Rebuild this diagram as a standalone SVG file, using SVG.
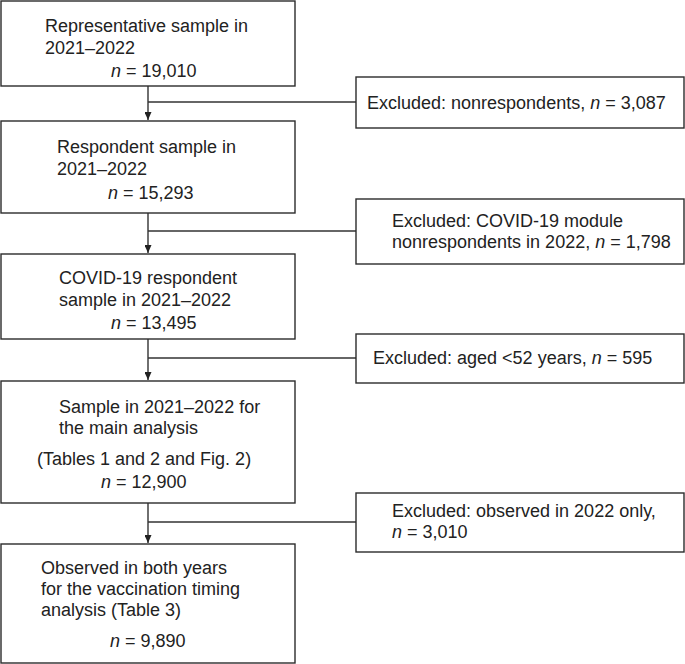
<svg xmlns="http://www.w3.org/2000/svg" width="685" height="664" viewBox="0 0 685 664">
<defs>
<marker id="arr" viewBox="0 0 8 7" refX="8" refY="3.5" markerWidth="8" markerHeight="7" markerUnits="userSpaceOnUse" orient="auto">
<path d="M0,0 L8,3.5 L0,7 Z" fill="#222"/>
</marker>
<style>
.box{fill:#fff;stroke:#2b2b2b;stroke-width:1.4}
.t{font-family:"Liberation Sans",Arial,sans-serif;font-size:18px;fill:#222}
.i{font-style:italic}
.ln{fill:none;stroke:#333;stroke-width:1.4}
</style>
</defs>
<rect width="685" height="664" fill="#fff"/>
<g id="connectors">
<path class="ln" d="M148,86 V120" marker-end="url(#arr)"/>
<path class="ln" d="M148,102 H356"/>
<path class="ln" d="M148,213 V253" marker-end="url(#arr)"/>
<path class="ln" d="M148,231 H356"/>
<path class="ln" d="M148,339 V380" marker-end="url(#arr)"/>
<path class="ln" d="M148,358 H356"/>
<path class="ln" d="M148,503 V543" marker-end="url(#arr)"/>
<path class="ln" d="M148,522 H356"/>
</g>
<g id="n1">
<rect class="box" x="1" y="1" width="294" height="85"/>
<text class="t" x="45" y="32">Representative sample in</text>
<text class="t" x="45" y="54">2021–2022</text>
<text class="t" x="111" y="77"><tspan class="i">n</tspan> = 19,010</text>
</g>
<g id="n2">
<rect class="box" x="1" y="121" width="294" height="92"/>
<text class="t" x="57" y="153">Respondent sample in</text>
<text class="t" x="57" y="175">2021–2022</text>
<text class="t" x="108" y="199"><tspan class="i">n</tspan> = 15,293</text>
</g>
<g id="n3">
<rect class="box" x="1" y="254" width="294" height="85"/>
<text class="t" x="59" y="284">COVID-19 respondent</text>
<text class="t" x="59" y="306">sample in 2021–2022</text>
<text class="t" x="111" y="329"><tspan class="i">n</tspan> = 13,495</text>
</g>
<g id="n4">
<rect class="box" x="1" y="381" width="294" height="122"/>
<text class="t" x="59" y="413">Sample in 2021–2022 for</text>
<text class="t" x="59" y="434">the main analysis</text>
<text class="t" x="37" y="465">(Tables 1 and 2 and Fig. 2)</text>
<text class="t" x="101" y="488"><tspan class="i">n</tspan> = 12,900</text>
</g>
<g id="n5">
<rect class="box" x="1" y="544" width="294" height="119"/>
<text class="t" x="41" y="574">Observed in both years</text>
<text class="t" x="41" y="595">for the vaccination timing</text>
<text class="t" x="41" y="616">analysis (Table 3)</text>
<text class="t" x="110" y="647"><tspan class="i">n</tspan> = 9,890</text>
</g>
<g id="e1">
<rect class="box" x="356" y="77" width="328" height="51"/>
<text class="t" x="367" y="109">Excluded: nonrespondents, <tspan class="i">n</tspan> = 3,087</text>
</g>
<g id="e2">
<rect class="box" x="356" y="199" width="328" height="65"/>
<text class="t" x="392" y="227">Excluded: COVID-19 module</text>
<text class="t" x="392" y="248">nonrespondents in 2022, <tspan class="i">n</tspan> = 1,798</text>
</g>
<g id="e3">
<rect class="box" x="356" y="334" width="328" height="49"/>
<text class="t" x="373" y="364">Excluded: aged &lt;52 years, <tspan class="i">n</tspan> = 595</text>
</g>
<g id="e4">
<rect class="box" x="356" y="493" width="328" height="59"/>
<text class="t" x="392" y="517">Excluded: observed in 2022 only,</text>
<text class="t" x="392" y="538"><tspan class="i">n</tspan> = 3,010</text>
</g>
</svg>
